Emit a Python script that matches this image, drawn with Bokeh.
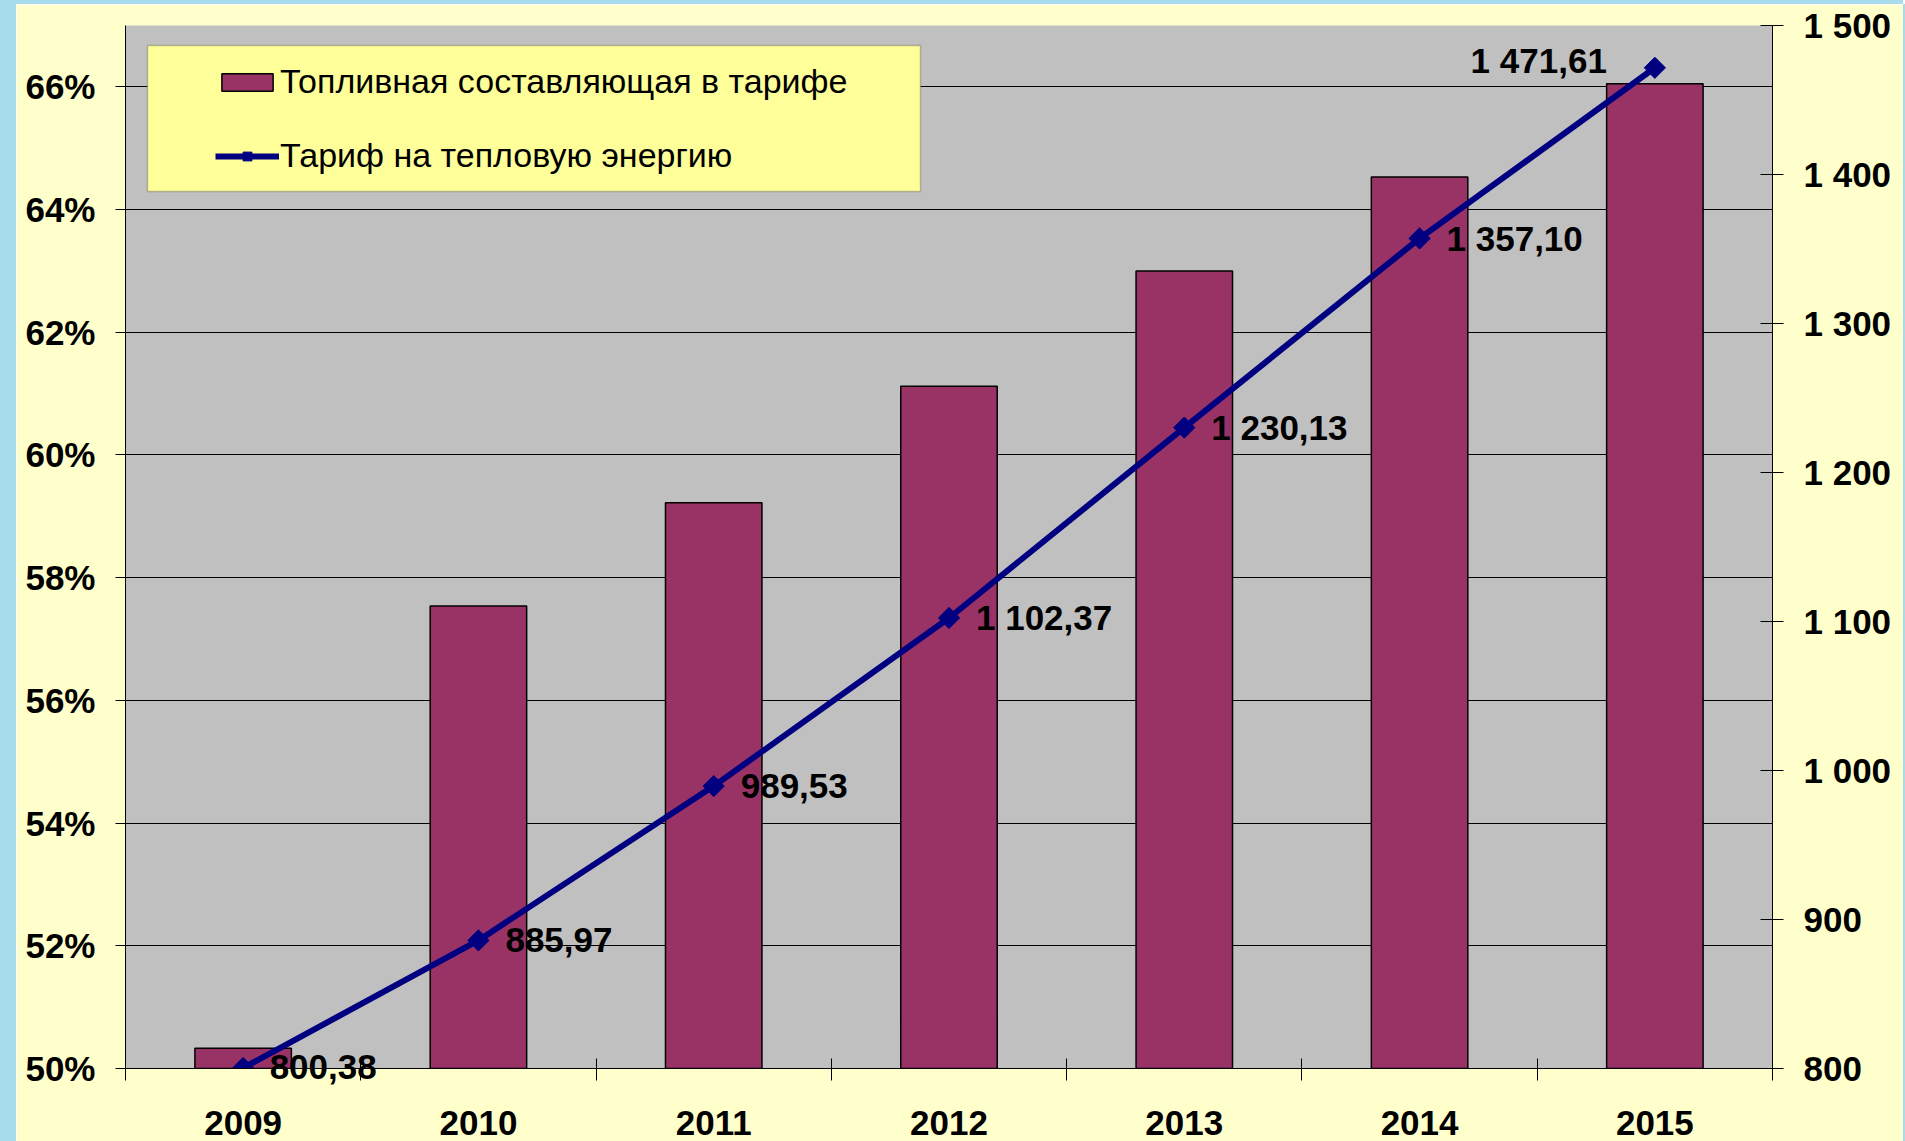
import math
from bokeh.plotting import figure
from bokeh.models import (Range1d, LinearAxis, FixedTicker, PrintfTickFormatter,
                          CustomJSTickFormatter, Legend, LegendItem, BoxAnnotation,
                          LabelSet, ColumnDataSource)
from bokeh.core.properties import value
from bokeh.embed import file_html
from bokeh.resources import INLINE

try:
    from bokeh.models import HTMLLabelSet
except Exception:
    HTMLLabelSet = None

# ---- data ----
years = [2009, 2010, 2011, 2012, 2013, 2014, 2015]
fuel_share = [50.33, 57.54, 59.22, 61.12, 63.0, 64.53, 66.05]   # % fuel component in tariff
tariff = [800.38, 885.97, 989.53, 1102.37, 1230.13, 1357.10, 1471.61]  # heat tariff
pct_ticks = [50, 52, 54, 56, 58, 60, 62, 64, 66]
tariff_ticks = [800, 900, 1000, 1100, 1200, 1300, 1400, 1500]
series_names = ["Топливная составляющая в тарифе", "Тариф на тепловую энергию"]


def fmt(v):
    return f"{v:,.2f}".replace(",", " ").replace(".", ",")


labels = [fmt(v) for v in tariff]

FONT = "Liberation Sans"
BAR = "#993366"
LINE = "#000080"
CYAN = "#A6DCEC"
W, H = 1887, 1137   # plus 16px left / 4px top margin painted cyan

p = figure(width=W, height=H, output_backend="svg", toolbar_location=None,
           x_range=Range1d(years[0] - 0.5, years[-1] + 0.5),
           y_range=Range1d(50, 67),
           min_border_left=109, min_border_right=131,
           min_border_top=21, min_border_bottom=73)
p.extra_y_ranges = {"tariff": Range1d(800, 1500)}
p.styles = {"margin-left": "16px", "margin-top": "4px",
            "box-shadow": f"-16px 0 0 0 {CYAN}, 0 -4px 0 0 {CYAN}, -16px -4px 0 0 {CYAN}, 2px 0 0 0 {CYAN}"}

p.background_fill_color = "#C0C0C0"
p.border_fill_color = "#FFFFCC"
p.outline_line_color = None

bars = p.vbar(x=years, top=fuel_share, bottom=50, width=0.41,
              fill_color=BAR, line_color="black", line_width=1.5)
ln = p.line(x=years, y=tariff, y_range_name="tariff", line_color=LINE, line_width=6)
mk = p.scatter(x=years, y=tariff, y_range_name="tariff", marker="square",
               angle=math.pi / 4, size=15, fill_color=LINE, line_color=LINE)

lab_style = dict(text_font=value(FONT), text_font_style="bold",
                 text_font_size="35px", text_color="black")
src_first = ColumnDataSource(dict(x=years[:1], y=tariff[:1], t=labels[:1]))
src_mid = ColumnDataSource(dict(x=years[1:-1], y=tariff[1:-1], t=labels[1:-1]))
src_last = ColumnDataSource(dict(x=years[-1:], y=tariff[-1:], t=labels[-1:]))
p.add_layout(LabelSet(x="x", y="y", text="t", source=src_mid, y_range_name="tariff",
                      x_offset=27, y_offset=0, text_baseline="middle", text_align="left",
                      **lab_style))
p.add_layout(LabelSet(x="x", y="y", text="t", source=src_last, y_range_name="tariff",
                      x_offset=-48, y_offset=7, text_baseline="middle", text_align="right",
                      **lab_style))
if HTMLLabelSet is not None:
    p.add_layout(HTMLLabelSet(x="x", y="y", text="t", source=src_first, y_range_name="tariff",
                              x_offset=27, y_offset=0, text_baseline="middle",
                              text_align="left", **lab_style))
else:
    p.add_layout(LabelSet(x="x", y="y", text="t", source=src_first, y_range_name="tariff",
                          x_offset=27, y_offset=14, text_baseline="middle",
                          text_align="left", **lab_style))

# ---- axes ----
xa = p.xaxis[0]
xa.ticker = FixedTicker(ticks=years,
                        minor_ticks=[y - 0.5 for y in years] + [years[-1] + 0.5])
xa.major_tick_in = 0
xa.major_tick_out = 0
xa.minor_tick_in = 10
xa.minor_tick_out = 12
xa.minor_tick_line_color = "black"
xa.axis_line_color = "black"
xa.major_label_standoff = 30
xa.major_label_text_font = FONT
xa.major_label_text_font_style = "bold"
xa.major_label_text_font_size = "35px"
xa.major_label_text_color = "black"

ya = p.yaxis[0]
ya.ticker = FixedTicker(ticks=pct_ticks)
ya.formatter = PrintfTickFormatter(format="%d%%")
ya.major_tick_in = 0
ya.major_tick_out = 10
ya.minor_tick_line_color = None
ya.major_tick_line_color = "black"
ya.axis_line_color = "black"
ya.major_label_standoff = 20
ya.major_label_text_font = FONT
ya.major_label_text_font_style = "bold"
ya.major_label_text_font_size = "35px"
ya.major_label_text_color = "black"

ra = LinearAxis(y_range_name="tariff", ticker=FixedTicker(ticks=tariff_ticks),
                formatter=CustomJSTickFormatter(code="""
                    const t = Math.round(tick);
                    if (t >= 1000) { return Math.floor(t/1000) + " " + String(t % 1000).padStart(3, "0"); }
                    return String(t);
                """))
ra.major_tick_in = 12
ra.major_tick_out = 11
ra.minor_tick_line_color = None
ra.major_tick_line_color = "black"
ra.axis_line_color = "black"
ra.major_label_standoff = 20
ra.major_label_text_font = FONT
ra.major_label_text_font_style = "bold"
ra.major_label_text_font_size = "35px"
ra.major_label_text_color = "black"
p.add_layout(ra, "right")

p.xgrid.grid_line_color = None
p.ygrid.ticker = FixedTicker(ticks=pct_ticks)
p.ygrid.grid_line_color = "black"
p.ygrid.grid_line_width = 1

# ---- legend ----
p.add_layout(BoxAnnotation(left=22, right=795, top=1023, bottom=877,
                           left_units="screen", right_units="screen",
                           top_units="screen", bottom_units="screen",
                           fill_color="#FFFF99", fill_alpha=1,
                           line_color="#404040", line_width=1.5))

legend = Legend(items=[LegendItem(label=series_names[0], renderers=[bars]),
                       LegendItem(label=series_names[1], renderers=[ln, mk])],
                location=(90, 893), orientation="vertical",
                background_fill_alpha=0, border_line_color=None,
                padding=10, spacing=35, glyph_width=64, glyph_height=22,
                label_standoff=1, label_height=36,
                label_text_font=FONT, label_text_font_size="34px",
                label_text_color="black")
p.add_layout(legend, "center")

open("out.html", "w").write(file_html(p, INLINE))
